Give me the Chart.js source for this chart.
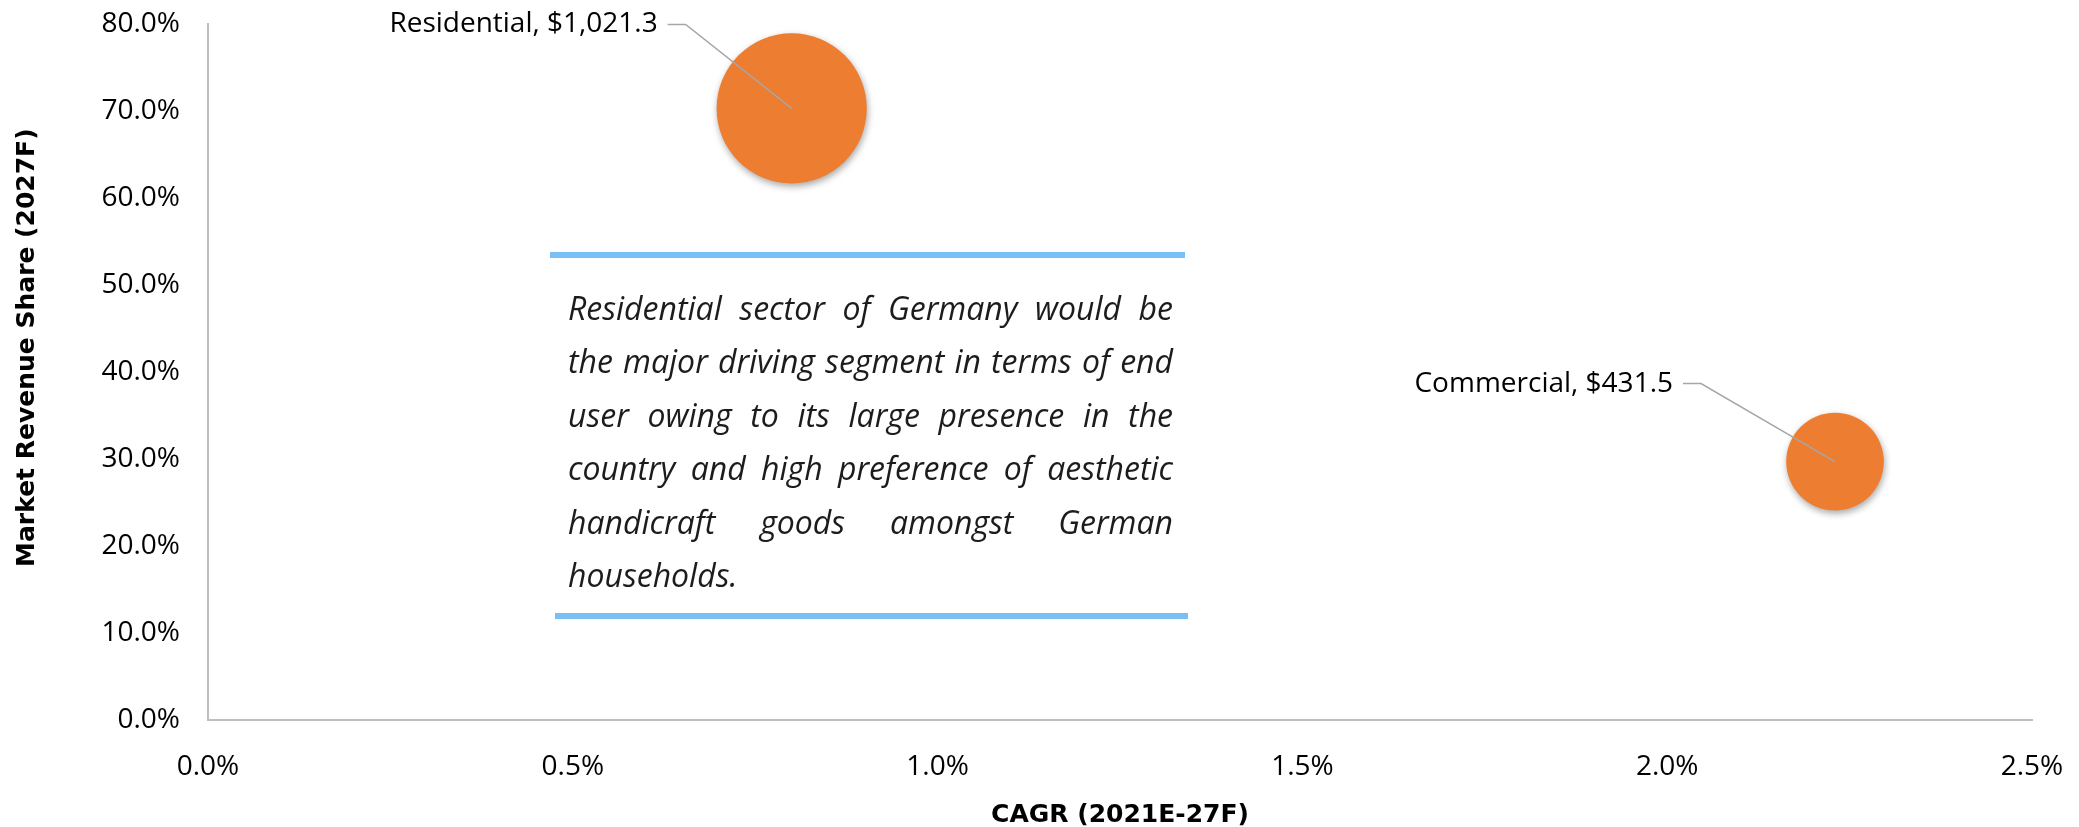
<!DOCTYPE html>
<html>
<head>
<meta charset="utf-8">
<script src="https://cdn.jsdelivr.net/npm/chart.js@4/dist/chart.umd.min.js"></script>
<style>
  body { margin: 0; background: #fff; }
  #wrap { position: relative; width: 2079px; height: 827px; }
  #note {
    position: absolute; left: 568px; top: 281px; width: 605px;
    font-family: 'Open Sans', sans-serif; font-style: italic; font-size: 30px;
    line-height: 53.4px; color: #1c1c1c;
  }
  #note div { white-space: nowrap; text-align: justify; text-align-last: justify; }
  #note div:last-child { text-align-last: left; }
  .rule { position: absolute; height: 6px; background: #7BC0F5; }
</style>
</head>
<body>
<div id="wrap">
  <canvas id="bubbleChart" width="2079" height="827"></canvas>
  <div class="rule" style="left:550px; top:252px; width:635px;"></div>
  <div id="note"></div>
  <div class="rule" style="left:555px; top:613px; width:633px;"></div>
</div>
<script>
// DATA
const categories = ['Residential', 'Commercial'];
const cagrValues = [0.80, 2.23];        // % CAGR (2021E-27F)
const shareValues = [70.3, 29.7];       // % market revenue share (2027F)
const marketValues = [1021.3, 431.5];   // $ market size, drives bubble size

const noteLines = [
  'Residential sector of Germany would be',
  'the major driving segment in terms of end',
  'user owing to its large presence in the',
  'country and high preference of aesthetic',
  'handicraft goods amongst German',
  'households.'
];

const ORANGE = '#ED7D31';
const BUBBLE_SCALE = 2.35; // radius = scale * sqrt(value)
const TITLE_FONT = 'bold 25px "DejaVu Sans"';

// note box: one justified line per div, font sized so the longest line fits
const note = document.getElementById('note');
const mctx = document.createElement('canvas').getContext('2d');
mctx.font = 'italic 100px "Open Sans"';
const widest = Math.max(...noteLines.slice(0, -1).map(l => mctx.measureText(l).width));
note.style.fontSize = Math.min(32, 600 * 100 / widest).toFixed(1) + 'px';
noteLines.forEach(l => {
  const d = document.createElement('div');
  d.textContent = l;
  note.appendChild(d);
});

// Data label + leader line (Excel style), bubble shadow
const labelPlugin = {
  id: 'bubbleLabels',
  beforeDatasetsDraw(chart) {
    const c = chart.ctx;
    c.save();
    c.shadowColor = 'rgba(0,0,0,0.35)';
    c.shadowBlur = 7;
    c.shadowOffsetX = 1;
    c.shadowOffsetY = 3;
  },
  afterDatasetsDraw(chart, args, opts) {
    const c = chart.ctx;
    c.restore();
    const meta = chart.getDatasetMeta(0);
    c.save();
    c.font = '28px "Open Sans"';
    c.textAlign = 'right';
    c.textBaseline = 'middle';
    meta.data.forEach((pt, i) => {
      const off = opts.offsets[i];
      const tx = pt.x + off[0], ty = pt.y + off[1];
      c.strokeStyle = '#A6A6A6';
      c.lineWidth = 1.5;
      c.beginPath();
      c.moveTo(tx + 10, ty);
      c.lineTo(tx + 28, ty);
      c.lineTo(pt.x, pt.y);
      c.stroke();
      c.fillStyle = '#000';
      const v = marketValues[i].toLocaleString('en-US', { minimumFractionDigits: 1 });
      c.fillText(categories[i] + ', $' + v, tx, ty);
    });
    c.restore();
  }
};

// y axis title, sitting a little above the middle like the Excel original
const yTitlePlugin = {
  id: 'yTitle',
  afterDraw(chart) {
    const c = chart.ctx;
    const area = chart.chartArea;
    c.save();
    c.translate(27, area.top + (area.bottom - area.top) * 0.465);
    c.rotate(-Math.PI / 2);
    c.font = TITLE_FONT;
    c.fillStyle = '#000';
    c.textAlign = 'center';
    c.textBaseline = 'middle';
    c.fillText('Market Revenue Share (2027F)', 0, 0);
    c.restore();
  }
};

const ctx = document.getElementById('bubbleChart').getContext('2d');
new Chart(ctx, {
  type: 'bubble',
  data: {
    datasets: [{
      data: categories.map((c, i) => ({
        x: cagrValues[i], y: shareValues[i], r: BUBBLE_SCALE * Math.sqrt(marketValues[i])
      })),
      backgroundColor: ORANGE,
      borderColor: ORANGE,
      borderWidth: 0
    }]
  },
  options: {
    responsive: false,
    animation: false,
    layout: { autoPadding: false, padding: { top: 24, right: 47, left: 0, bottom: 0 } },
    plugins: {
      legend: { display: false },
      tooltip: { enabled: false },
      bubbleLabels: { offsets: [[-134, -84], [-162, -78]] }
    },
    scales: {
      x: {
        type: 'linear', min: 0, max: 2.5,
        grid: { display: false, drawTicks: false },
        border: { display: true, color: '#BFBFBF', width: 2 },
        ticks: {
          stepSize: 0.5, padding: 30, color: '#000',
          font: { family: 'Open Sans', size: 28 },
          callback: v => v.toFixed(1) + '%'
        },
        title: {
          display: true, text: 'CAGR (2021E-27F)', color: '#000',
          font: { family: 'DejaVu Sans', size: 25, weight: 'bold' },
          padding: { top: 0, bottom: -3 }
        },
        afterFit(scale) {
          scale.height = 107;
          scale.paddingLeft = 0;
          scale.paddingRight = 0;
        }
      },
      y: {
        type: 'linear', min: 0, max: 80,
        grid: { display: false, drawTicks: false },
        border: { display: true, color: '#BFBFBF', width: 2 },
        ticks: {
          stepSize: 10, padding: 28, color: '#000',
          font: { family: 'Open Sans', size: 28 },
          callback: v => v.toFixed(1) + '%'
        },
        afterFit(scale) {
          scale.width = 208;
          scale.paddingTop = 0;
          scale.paddingBottom = 0;
        }
      }
    }
  },
  plugins: [labelPlugin, yTitlePlugin]
});
</script>
</body>
</html>
